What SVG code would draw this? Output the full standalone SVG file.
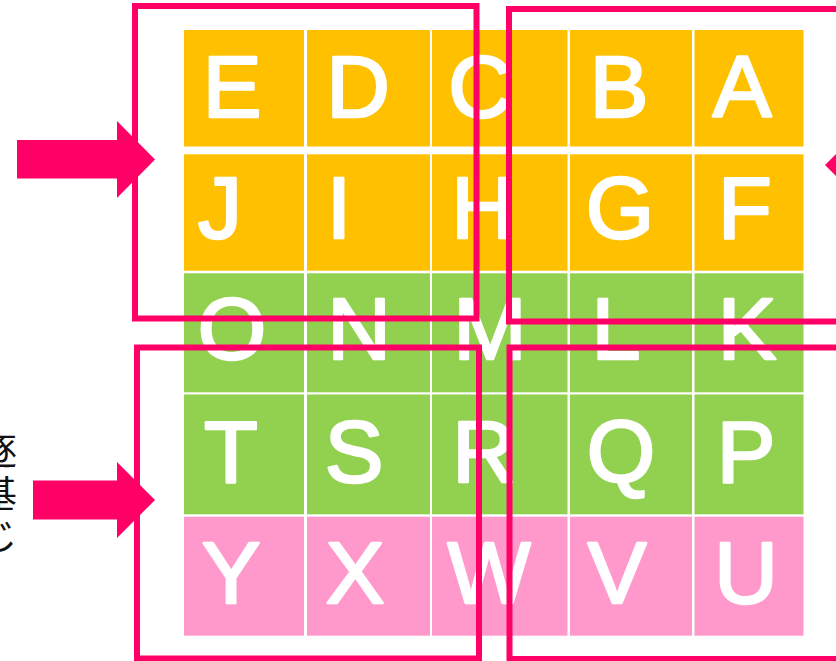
<svg xmlns="http://www.w3.org/2000/svg" width="836" height="661" viewBox="0 0 836 661">
<style>
.o{fill:#FFC000}
.g{fill:#92D050}
.p{fill:#FF99CC}
.l{font-family:"Liberation Sans",Arial,sans-serif;font-size:88px;fill:#fff;stroke:#fff;stroke-width:2.6;stroke-linejoin:round;text-anchor:middle}
.f{fill:none;stroke:#FF0066;stroke-width:6}
.a{fill:#FF0066}
.jp{font-family:"Noto Sans CJK JP",sans-serif;font-size:37px;fill:#111;text-anchor:end}
</style>
<rect width="836" height="661" fill="#fff"/>
<g id="labels">
<text class="jp" x="17" y="465">逐</text>
<text class="jp" x="17" y="508">基</text>
<text class="jp" x="17" y="550">じ</text>
</g>
<g id="row1">
<g id="E"><rect class="o" x="184" y="30" width="120" height="116.5"/><text class="l" x="232" y="117">E</text></g>
<g id="D"><rect class="o" x="307" y="30" width="123" height="116.5"/><text class="l" x="358" y="117">D</text></g>
<g id="C"><rect class="o" x="432" y="30" width="135.5" height="116.5"/><text class="l" x="480" y="117">C</text></g>
<g id="B"><rect class="o" x="570" y="30" width="122" height="116.5"/><text class="l" x="619" y="117">B</text></g>
<g id="A"><rect class="o" x="694.5" y="30" width="109" height="116.5"/><text class="l" x="742" y="117">A</text></g>
</g>
<g id="row2">
<g id="J"><rect class="o" x="184" y="154.3" width="120" height="116.4"/><text class="l" x="220" y="238">J</text></g>
<g id="I"><rect class="o" x="307" y="154.3" width="123" height="116.4"/><text class="l" x="339" y="238">I</text></g>
<g id="H"><rect class="o" x="432" y="154.3" width="135.5" height="116.4"/><text class="l" x="483" y="238">H</text></g>
<g id="G"><rect class="o" x="570" y="154.3" width="122" height="116.4"/><text class="l" x="620" y="238">G</text></g>
<g id="F"><rect class="o" x="694.5" y="154.3" width="109" height="116.4"/><text class="l" x="745" y="238">F</text></g>
</g>
<g id="row3">
<g id="O"><rect class="g" x="184" y="273.3" width="120" height="119"/><text class="l" x="232" y="359">O</text></g>
<g id="N"><rect class="g" x="307" y="273.3" width="123" height="119"/><text class="l" x="359" y="359">N</text></g>
<g id="M"><rect class="g" x="432" y="273.3" width="135.5" height="119"/><text class="l" x="490" y="359">M</text></g>
<g id="L"><rect class="g" x="570" y="273.3" width="122" height="119"/><text class="l" x="616" y="359">L</text></g>
<g id="K"><rect class="g" x="694.5" y="273.3" width="109" height="119"/><text class="l" x="747" y="359">K</text></g>
</g>
<g id="row4">
<g id="T"><rect class="g" x="184" y="394.5" width="120" height="119.8"/><text class="l" x="231" y="481.5">T</text></g>
<g id="S"><rect class="g" x="307" y="394.5" width="123" height="119.8"/><text class="l" x="354" y="481.5">S</text></g>
<g id="R"><rect class="g" x="432" y="394.5" width="135.5" height="119.8"/><text class="l" x="484" y="481.5">R</text></g>
<g id="Q"><rect class="g" x="570" y="394.5" width="122" height="119.8"/><text class="l" x="621" y="481.5">Q</text></g>
<g id="P"><rect class="g" x="694.5" y="394.5" width="109" height="119.8"/><text class="l" x="746" y="481.5">P</text></g>
</g>
<g id="row5">
<g id="Y"><rect class="p" x="184" y="516.7" width="120" height="119"/><text class="l" x="231" y="603">Y</text></g>
<g id="X"><rect class="p" x="307" y="516.7" width="123" height="119"/><text class="l" x="355" y="603">X</text></g>
<g id="W"><rect class="p" x="432" y="516.7" width="135.5" height="119"/><text class="l" x="489" y="603">W</text></g>
<g id="V"><rect class="p" x="570" y="516.7" width="122" height="119"/><text class="l" x="617" y="603">V</text></g>
<g id="U"><rect class="p" x="694.5" y="516.7" width="109" height="119"/><text class="l" x="746" y="603">U</text></g>
</g>
<g id="frames">
<rect class="f" x="135" y="6" width="341.5" height="312.5"/>
<rect class="f" x="509" y="9" width="400" height="312.5"/>
<rect class="f" x="137" y="347.5" width="342" height="311"/>
<rect class="f" x="509.5" y="347.5" width="400" height="311.5"/>
</g>
<g id="connectors">
<polygon class="a" points="17,140 117,140 117,121 155,159.5 117,198 117,178.5 17,178.5"/>
<polygon class="a" points="33,480.5 117,480.5 117,462 155,500 117,538 117,519.5 33,519.5"/>
<polygon class="a" points="963,146 863,146 863,127 825,165 863,203 863,184 963,184"/>
</g>
</svg>
